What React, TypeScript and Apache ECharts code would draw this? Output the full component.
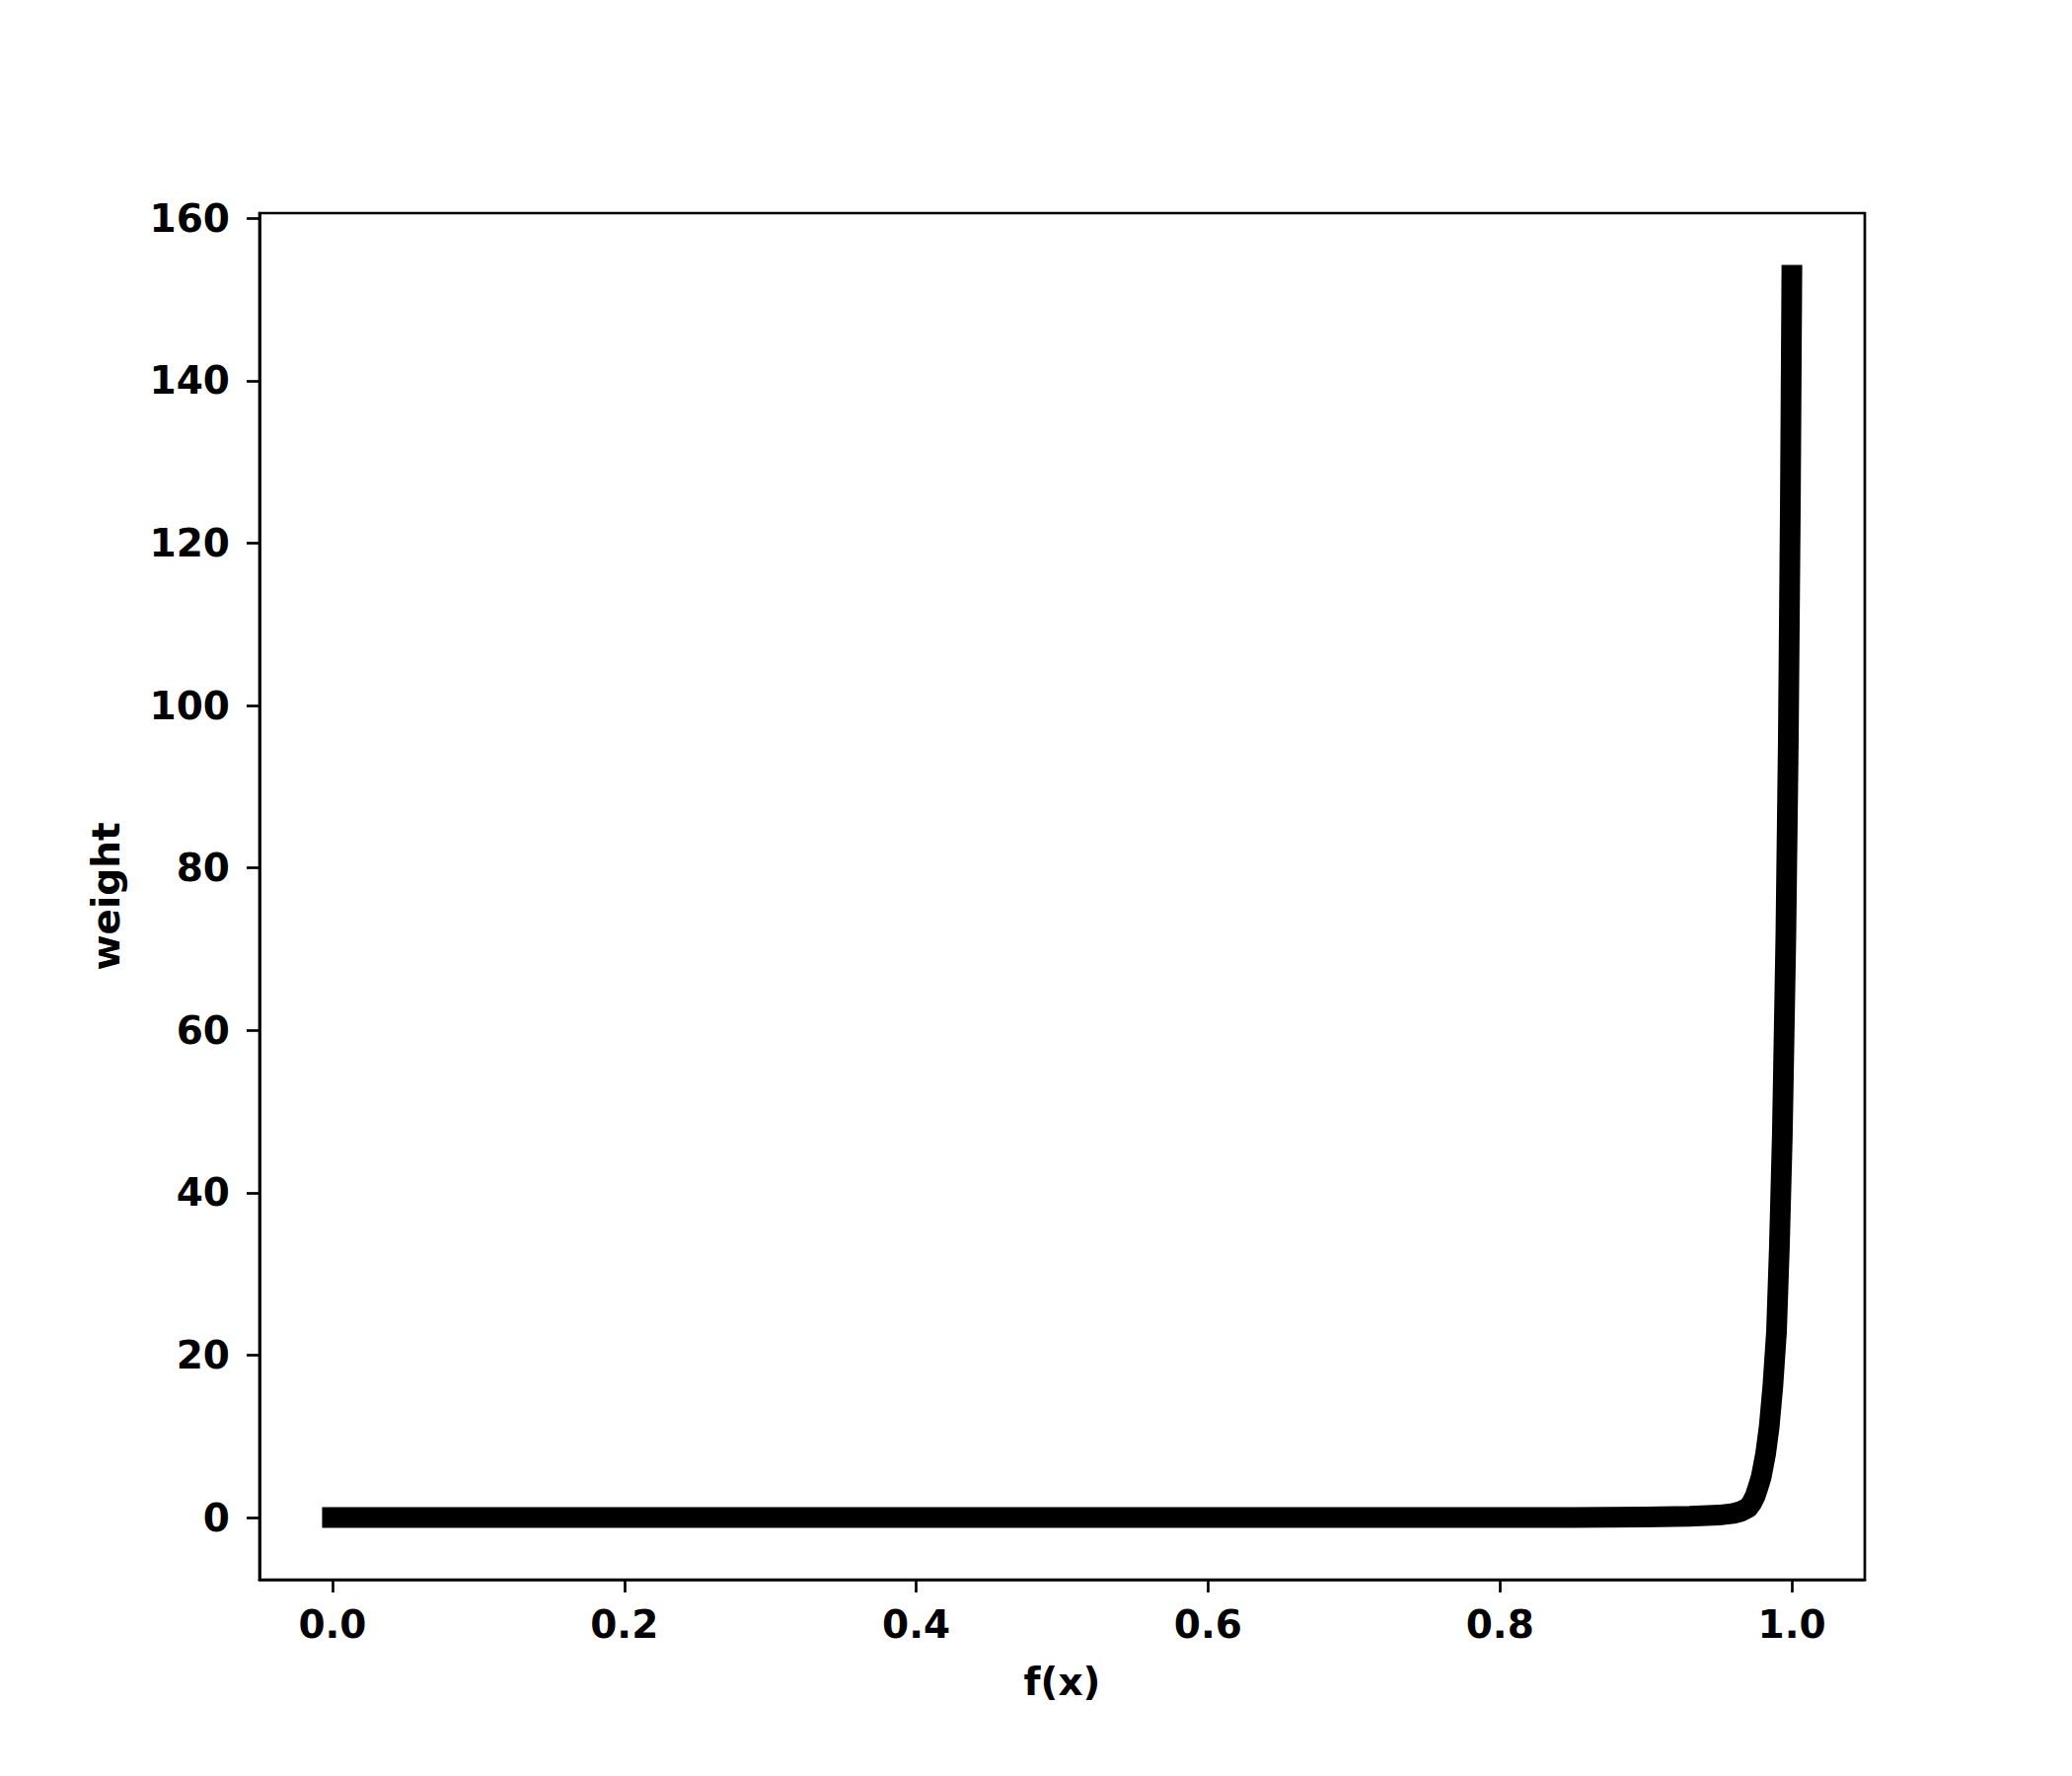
import React, { useEffect, useRef } from "react";
import * as echarts from "echarts";

const fx = [0, 0.1, 0.2, 0.3, 0.4, 0.5, 0.6, 0.7, 0.8, 0.85, 0.9, 0.93, 0.95, 0.96, 0.965, 0.97, 0.9725, 0.975, 0.977, 0.979, 0.982, 0.9845, 0.987, 0.9895, 0.9915, 0.9935, 0.9959, 0.9976, 0.999, 1.0];
const weight = [0, 0, 0, 0, 0, 0, 0, 0, 0.01, 0.02, 0.06, 0.15, 0.3, 0.5, 0.75, 1.2, 1.8, 2.7, 3.8, 5.0, 7.8, 11.2, 16.2, 22.9, 33.5, 47.2, 71.5, 95.8, 125, 153];
const xTicks = [0, 0.2, 0.4, 0.6, 0.8, 1.0];
const yTicks = [0, 20, 40, 60, 80, 100, 120, 140, 160];

const FONT = "DejaVu Sans";

export default function App() {
  const ref = useRef<HTMLDivElement>(null);
  useEffect(() => {
    if (!ref.current) return;
    const chart = echarts.init(ref.current, null, { renderer: "svg" });
    const labelStyle = { fontFamily: FONT, fontWeight: "bold" as const, fontSize: 39, color: "#000" };
    chart.setOption({
      animation: false,
      backgroundColor: "#fff",
      grid: {
        left: 263,
        right: 210,
        top: 216,
        bottom: 199,
        show: true,
        borderColor: "#000",
        borderWidth: 2.7,
        containLabel: false,
      },
      xAxis: {
        type: "value",
        min: -0.05,
        max: 1.05,
        name: "f(x)",
        nameLocation: "middle",
        nameGap: 84,
        nameTextStyle: { ...labelStyle },
        axisLine: { show: true, onZero: false, lineStyle: { color: "#000", width: 2.7 } },
        axisTick: { show: true, inside: false, customValues: xTicks, length: 13, lineStyle: { color: "#000", width: 2.7 } },
        axisLabel: { ...labelStyle, customValues: xTicks, margin: 26, formatter: (v: number) => v.toFixed(1) },
        splitLine: { show: false },
      },
      yAxis: {
        type: "value",
        min: -7.65,
        max: 160.65,
        name: "weight",
        nameLocation: "middle",
        nameGap: 136,
        nameTextStyle: { ...labelStyle },
        axisLine: { show: true, onZero: false, lineStyle: { color: "#000", width: 2.7 } },
        axisTick: { show: true, inside: false, customValues: yTicks, length: 13, lineStyle: { color: "#000", width: 2.7 } },
        axisLabel: { ...labelStyle, customValues: yTicks, margin: 30, formatter: (v: number) => String(Math.round(v)) },
        splitLine: { show: false },
      },
      series: [
        {
          type: "line",
          data: fx.map((x, i) => [x, weight[i]]),
          showSymbol: false,
          symbol: "none",
          clip: false,
          lineStyle: { color: "#000", width: 21, cap: "square", join: "round" },
        },
      ],
    });
    return () => chart.dispose();
  }, []);
  return (
    <div
      ref={ref}
      style={{ position: "absolute", left: 0, top: 0, width: 2100, height: 1800, background: "#fff" }}
    />
  );
}
